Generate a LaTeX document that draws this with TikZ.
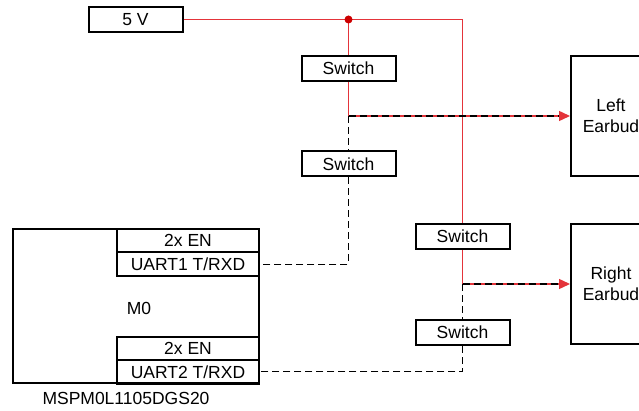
\documentclass[tikz,border=0pt]{standalone}
\usepackage{fontspec}
\setmainfont{Liberation Sans}
\usetikzlibrary{arrows.meta}
\definecolor{pwrred}{RGB}{228,52,58}
\definecolor{dotred}{RGB}{204,0,0}
\begin{document}
\begin{tikzpicture}[
        x=1pt, y=-1pt,
        box/.style={
            rectangle,
            draw,
            line width=2pt,
            align=center,
            inner sep=0pt,
            font=\fontsize{17.5}{21}\selectfont
        },
        swbox/.style={
            box,
            minimum width=94pt,
            minimum height=25pt
        },
        pinbox/.style={
            box,
            minimum width=142pt,
            minimum height=23.5pt
        },
        budbox/.style={
            box,
            minimum width=80pt,
            minimum height=120pt
        },
        label/.style={
            inner sep=0pt,
            font=\fontsize{17.5}{21}\selectfont
        },
        pwr/.style={pwrred, line width=1.4pt},
        sig/.style={black, line width=1.4pt, dash pattern=on 7pt off 4pt},
        pwrarrow/.style={pwr, -{Triangle[length=11pt,width=10pt]}},
        sigarrow/.style={sig, shorten >=11pt}
    ]

        \useasboundingbox (0,0) rectangle (639,411);
        \clip (0,0) rectangle (639,411);

        % chip
        \node[box, minimum width=246pt, minimum height=154pt] (mcu) at (136,306) {};
        \node[pinbox] (en1) at (188,240.75) {2x EN};
        \node[pinbox] (uart1) at (188,264.25) {UART1 T/RXD};
        \node[pinbox] (en2) at (188,348.25) {2x EN};
        \node[pinbox] (uart2) at (188,371.75) {UART2 T/RXD};
        \node[label] (core) at (139,308) {M0};
        \node[label] (chipname) at (126,398) {MSPM0L1105DGS20};

        % supply and switches
        \node[swbox] (vin) at (135.5,19.5) {5 V};
        \node[swbox] (sw1) at (348.5,68.5) {Switch};
        \node[swbox] (sw2) at (348.5,164) {Switch};
        \node[swbox] (sw3) at (462.5,236.5) {Switch};
        \node[swbox] (sw4) at (462.5,332.5) {Switch};

        % earbuds
        \node[budbox] (lbud) at (611,116) {Left\\Earbud};
        \node[budbox] (rbud) at (611,284) {Right\\Earbud};

        \coordinate (jn) at (348.5,19.5);
        \coordinate (tapL) at (348.5,116);
        \coordinate (tapR) at (462.5,284);

        % power
        \draw[pwr] (vin.east) -- (jn) -| (sw3.north);
        \draw[pwr] (jn) -- (sw1.north);
        \draw[pwr] (sw1.south) -- (tapL);
        \draw[pwr] (sw3.south) -- (tapR);
        \draw[pwrarrow] (tapL) -- (lbud.west);
        \draw[pwrarrow] (tapR) -- (rbud.west);
        \fill[dotred] (jn) circle (4pt);

        % data
        \draw[sigarrow] (tapL) -- (lbud.west);
        \draw[sigarrow] (tapR) -- (rbud.west);
        \draw[sig] (tapL) -- (sw2.north);
        \draw[sig] (sw2.south) |- (uart1.east);
        \draw[sig] (tapR) -- (sw4.north);
        \draw[sig] (sw4.south) |- (uart2.east);

    \end{tikzpicture}
\end{document}
